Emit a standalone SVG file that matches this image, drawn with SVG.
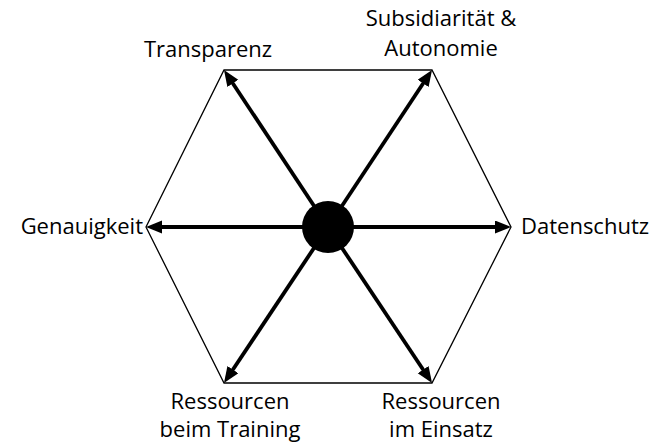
<svg xmlns="http://www.w3.org/2000/svg" width="655" height="446" viewBox="0 0 655 446">
<style>
text{font-family:"Open Sans","Liberation Sans",Arial,sans-serif;font-size:22px;fill:#000}
.m{text-anchor:middle}
.hex{fill:none;stroke:#000;stroke-width:1.3}
.arr{stroke:#000;stroke-width:3.8;fill:none;marker-end:url(#ah)}
</style>
<defs>
<marker id="ah" markerUnits="userSpaceOnUse" markerWidth="18" markerHeight="14" refX="10" refY="6.5" orient="auto">
<path d="M0,0 L16,6.5 L0,13 z" fill="#000"/>
</marker>
</defs>
<g id="hexagon"><polygon class="hex" points="224,70 432,70 511,227 432,383 224,383 146,227"/></g>
<g id="connectors">
<line class="arr" x1="328" y1="227" x2="227.3" y2="75"/>
<line class="arr" x1="328" y1="227" x2="428.7" y2="75"/>
<line class="arr" x1="328" y1="227" x2="152" y2="227"/>
<line class="arr" x1="328" y1="227" x2="505" y2="227"/>
<line class="arr" x1="328" y1="227" x2="227.3" y2="378"/>
<line class="arr" x1="328" y1="227" x2="428.7" y2="378"/>
</g>
<g id="center"><circle cx="328" cy="227" r="26" fill="#000"/></g>
<g id="transparenz"><text class="m" x="208" y="57">Transparenz</text></g>
<g id="subsidiaritaet"><text class="m" x="441" y="26">Subsidiarität &amp;</text><text class="m" x="441" y="56">Autonomie</text></g>
<g id="genauigkeit"><text x="143" y="234" text-anchor="end">Genauigkeit</text></g>
<g id="datenschutz"><text x="521" y="234">Datenschutz</text></g>
<g id="ressourcen-training"><text class="m" x="230" y="409">Ressourcen</text><text class="m" x="230" y="437">beim Training</text></g>
<g id="ressourcen-einsatz"><text class="m" x="441" y="409">Ressourcen</text><text class="m" x="441" y="437">im Einsatz</text></g>
</svg>
